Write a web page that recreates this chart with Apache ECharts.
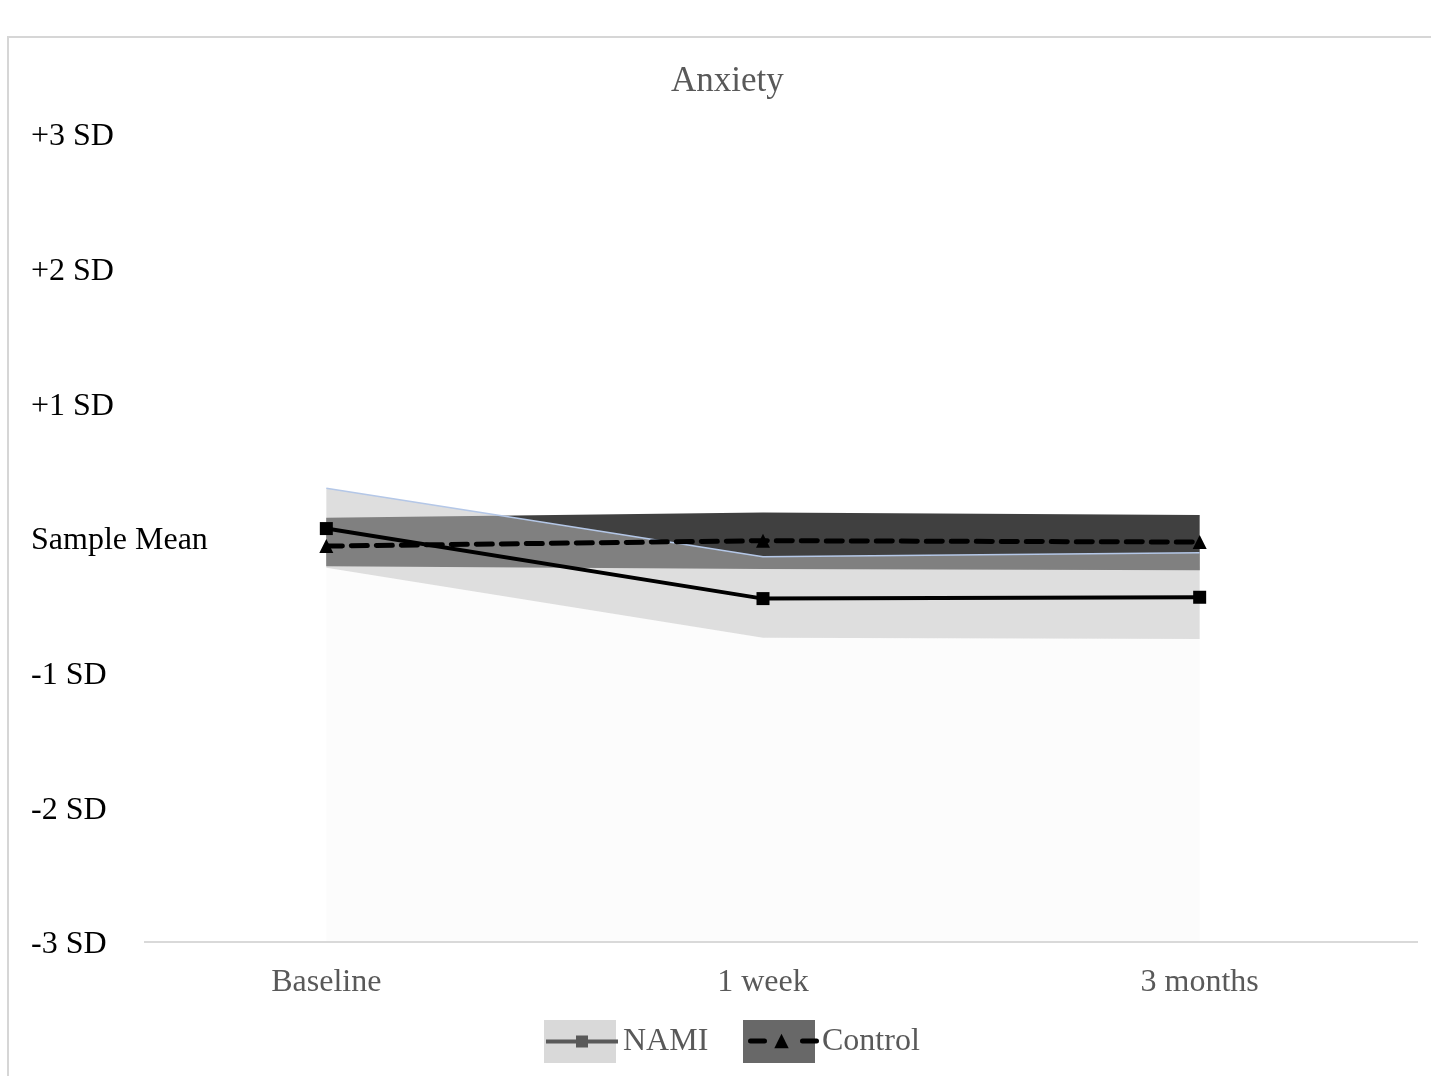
<!DOCTYPE html>
<html>
<head>
<meta charset="utf-8">
<title>Anxiety</title>
<script src="https://cdn.jsdelivr.net/npm/echarts@6/dist/echarts.min.js"></script>
<style>
  html, body { margin: 0; padding: 0; background: #fff; overflow: hidden; }
  #frame { position: absolute; left: 7px; top: 36px; right: 0; bottom: 0; border-top: 2px solid #d6d6d6; border-left: 2px solid #d6d6d6; }
  #chart { position: absolute; left: 0; top: 0; width: 1431px; height: 1076px; }
</style>
</head>
<body>
<div id="frame"></div>
<div id="chart"></div>
<script>
const categories = ['Baseline', '1 week', '3 months'];
const yTickLabels = ['-3 SD', '-2 SD', '-1 SD', 'Sample Mean', '+1 SD', '+2 SD', '+3 SD'];

// all values are in SD units relative to the sample mean
const namiMean = [0.07, -0.45, -0.44];
const namiLower = [-0.22, -0.74, -0.75];
const namiUpper = [0.37, -0.14, -0.11];
const controlMean = [-0.06, -0.02, -0.03];
const controlLower = [-0.21, -0.23, -0.24];
const controlUpper = [0.15, 0.19, 0.17];

const serif = 'Liberation Serif';

// height of a band, stacked on top of its lower bound
let bandHeight = (upper, lower) => upper.map((v, i) => +(v - lower[i]).toFixed(3));

let legendText = { fontFamily: serif, fontSize: 32, color: '#595959', padding: [0, 0, 0, 2] };

let option = {
  animation: false,
  title: {
    text: 'Anxiety',
    left: 671,
    top: 64,
    padding: 0,
    textStyle: { fontFamily: serif, fontSize: 35, fontWeight: 'normal', color: '#595959' }
  },
  grid: { left: 108, right: 13, top: 134, bottom: 134, outerBoundsMode: 'none' },
  xAxis: {
    type: 'category',
    data: categories,
    axisLine: { show: false },
    axisTick: { show: false },
    axisLabel: { fontFamily: serif, fontSize: 32, color: '#595959', margin: 25 }
  },
  yAxis: {
    type: 'value',
    min: -3,
    max: 3,
    interval: 1,
    splitLine: { show: false },
    axisLine: { show: false },
    axisTick: { show: false },
    axisLabel: {
      fontFamily: serif,
      fontSize: 32,
      color: '#000',
      align: 'left',
      margin: 77,
      formatter: v => '{sd|' + yTickLabels[Math.round(v) + 3] + '}',
      rich: {
        // labels sit a little below their tick in the original
        sd: { fontFamily: serif, fontSize: 32, color: '#000', padding: [6, 0, 0, 0] }
      }
    }
  },
  legend: [
    {
      data: [{ name: 'NAMI', icon: 'rect', itemStyle: { color: '#d9d9d9', borderWidth: 0 } }],
      left: 544, top: 1020, padding: 0,
      itemWidth: 72, itemHeight: 43,
      selectedMode: false, textStyle: legendText, z: 4
    },
    {
      data: [{ name: 'Control', icon: 'rect', itemStyle: { color: '#686868', borderWidth: 0 } }],
      left: 743, top: 1020, padding: 0,
      itemWidth: 72, itemHeight: 43,
      selectedMode: false, textStyle: legendText, z: 4
    },
    {
      data: [{ name: 'NAMI mean', itemStyle: { color: '#595959' }, lineStyle: { color: '#595959', width: 4 } }],
      left: 544, top: 1034, padding: 0,
      itemWidth: 72, itemHeight: 15,
      selectedMode: false, formatter: () => '', z: 5
    },
    {
      data: [{ name: 'Control mean', itemStyle: { color: '#000' }, lineStyle: { color: '#000', width: 5, type: [14, 38], dashOffset: -5 } }],
      left: 743, top: 1032, padding: 0,
      itemWidth: 72, itemHeight: 18,
      selectedMode: false, formatter: () => '', z: 5
    }
  ],
  series: [
    {
      name: 'NAMI lower',
      type: 'line',
      stack: 'nami',
      stackStrategy: 'all',
      data: namiLower,
      symbol: 'none',
      silent: true,
      lineStyle: { width: 0, opacity: 0 },
      areaStyle: { color: '#fcfcfc', opacity: 1, origin: 'start' },
      z: 1,
      // x axis baseline, starts right of the "-3 SD" label
      markLine: {
        silent: true,
        symbol: 'none',
        label: { show: false },
        lineStyle: { color: '#d9d9d9', width: 2, type: 'solid' },
        data: [[{ x: 144, yAxis: -3 }, { x: 1418, yAxis: -3 }]]
      }
    },
    {
      name: 'Control lower',
      type: 'line',
      stack: 'control',
      stackStrategy: 'all',
      data: controlLower,
      symbol: 'none',
      silent: true,
      lineStyle: { width: 0, opacity: 0 },
      z: 1
    },
    {
      name: 'Control',
      type: 'line',
      stack: 'control',
      stackStrategy: 'all',
      data: bandHeight(controlUpper, controlLower),
      symbol: 'none',
      silent: true,
      itemStyle: { color: '#686868' },
      lineStyle: { width: 0, opacity: 0 },
      areaStyle: { color: '#404040', opacity: 1 },
      z: 2
    },
    {
      name: 'NAMI',
      type: 'line',
      stack: 'nami',
      stackStrategy: 'all',
      data: bandHeight(namiUpper, namiLower),
      symbol: 'none',
      silent: true,
      itemStyle: { color: '#d9d9d9' },
      lineStyle: { color: '#b4c7e7', width: 1.5 },
      areaStyle: { color: 'rgba(190,190,190,0.51)', opacity: 1 },
      z: 3
    },
    {
      name: 'Control mean',
      type: 'line',
      data: controlMean,
      symbol: 'triangle',
      symbolSize: 14,
      itemStyle: { color: '#000' },
      lineStyle: { color: '#000', width: 5, type: [16, 9], cap: 'round' },
      z: 4
    },
    {
      name: 'NAMI mean',
      type: 'line',
      data: namiMean,
      symbol: 'rect',
      symbolSize: 13,
      itemStyle: { color: '#000' },
      lineStyle: { color: '#000', width: 4 },
      z: 5
    }
  ]
};

let chart = echarts.init(document.getElementById('chart'));
chart.setOption(option);
</script>
</body>
</html>
